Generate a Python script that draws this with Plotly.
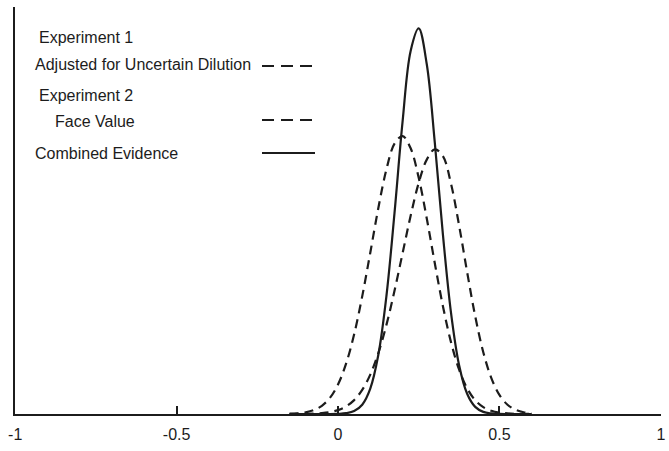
import plotly.graph_objects as go

# x grid (shared by all curves)
x_vals = [-0.15, -0.125, -0.1, -0.075, -0.05, -0.025, 0.0, 0.025, 0.05, 0.075,
          0.1, 0.125, 0.15, 0.175, 0.2, 0.225, 0.25, 0.275, 0.3, 0.325,
          0.35, 0.375, 0.4, 0.425, 0.45, 0.475, 0.5, 0.525, 0.55, 0.575, 0.6]

# Experiment 1, adjusted for uncertain dilution (dashed, left)
exp1_adjusted = [0.003, 0.007, 0.017, 0.039, 0.082, 0.161, 0.295, 0.503, 0.797, 1.176,
                 1.613, 2.060, 2.446, 2.703, 2.779, 2.657, 2.363, 1.955, 1.505, 1.078,
                 0.719, 0.445, 0.257, 0.138, 0.069, 0.032, 0.014, 0.006, 0.002, 0.001, 0.0]

# Experiment 2, face value (dashed, right)
exp2_face = [0.0, 0.001, 0.002, 0.004, 0.009, 0.019, 0.039, 0.076, 0.139, 0.241,
             0.394, 0.610, 0.891, 1.232, 1.607, 1.982, 2.311, 2.544, 2.647, 2.578,
             2.304, 1.888, 1.419, 0.978, 0.618, 0.359, 0.191, 0.093, 0.042, 0.017, 0.006]

# Combined evidence (solid)
combined = [0.0, 0.0, 0.0, 0.0, 0.0, 0.0, 0.002, 0.008, 0.029, 0.093,
            0.254, 0.592, 1.180, 2.009, 2.923, 3.631, 3.856, 3.497, 2.709, 1.794,
            1.014, 0.490, 0.202, 0.071, 0.021, 0.006, 0.001, 0.0, 0.0, 0.0, 0.0]

tick_vals = [-1, -0.5, 0, 0.5, 1]
tick_text = ["-1", "-0.5", "0", "0.5", "1"]

legend_labels = ["Experiment 1", "Adjusted for Uncertain Dilution", "Experiment 2",
                 "Face Value", "Combined Evidence"]

INK = "#1c1c1c"
FONT = "Liberation Sans, Arial, sans-serif"
CURVE_DASH = "9px,6px"

fig = go.Figure()
fig.add_trace(go.Scatter(x=x_vals, y=exp1_adjusted, mode="lines", line_shape="spline",
                         line=dict(color=INK, width=2.2, dash=CURVE_DASH),
                         name=legend_labels[1]))
fig.add_trace(go.Scatter(x=x_vals, y=exp2_face, mode="lines", line_shape="spline",
                         line=dict(color=INK, width=2.2, dash=CURVE_DASH),
                         name=legend_labels[3]))
fig.add_trace(go.Scatter(x=x_vals, y=combined, mode="lines", line_shape="spline",
                         line=dict(color=INK, width=2.2),
                         name=legend_labels[4]))

W, H = 669, 451
ml, mr, mt, mb = 15, 8, 7, 37
pw, ph = W - ml - mr, H - mt - mb

def px(xp):
    return (xp - ml) / pw

def py(yp):
    return (H - mb - yp) / ph

# legend text (left edge px, centre y px)
text_pos = [(37, 37), (33, 65), (37, 96), (53, 122), (33, 153)]
annotations = []
for label, (lx, ly) in zip(legend_labels, text_pos):
    annotations.append(dict(text=label, x=px(lx), y=py(ly), xref="paper", yref="paper",
                            xanchor="left", yanchor="middle", showarrow=False,
                            font=dict(family=FONT, size=16, color=INK)))

# legend sample lines
shapes = []
samples = [(262, 315, 66, "12px,7px"), (262, 317, 120, "12px,7px"), (262, 315, 153, "solid")]
for x0, x1, yy, dash in samples:
    shapes.append(dict(type="line", xref="paper", yref="paper",
                       x0=px(x0), x1=px(x1), y0=py(yy), y1=py(yy),
                       line=dict(color=INK, width=2, dash=dash)))

fig.update_layout(
    width=W, height=H,
    margin=dict(l=ml, r=mr, t=mt, b=mb, autoexpand=False),
    paper_bgcolor="white", plot_bgcolor="white",
    showlegend=False,
    annotations=annotations,
    shapes=shapes,
    xaxis=dict(range=[-1.0005, 1.0005], tickvals=tick_vals, ticktext=tick_text,
               ticks="inside", ticklen=8, tickwidth=1.5, tickcolor=INK,
               showline=True, linecolor=INK, linewidth=1.5,
               showgrid=False, zeroline=False, automargin=False,
               ticklabelstandoff=5,
               tickfont=dict(family=FONT, size=16, color=INK)),
    yaxis=dict(range=[0, 4.07], showline=True, linecolor=INK, linewidth=1.5,
               showticklabels=False, ticks="", showgrid=False, zeroline=False,
               automargin=False),
)

fig.write_html("out.html", config={"displayModeBar": False},
               post_script="document.body.style.margin='0';document.body.style.overflow='hidden';")
